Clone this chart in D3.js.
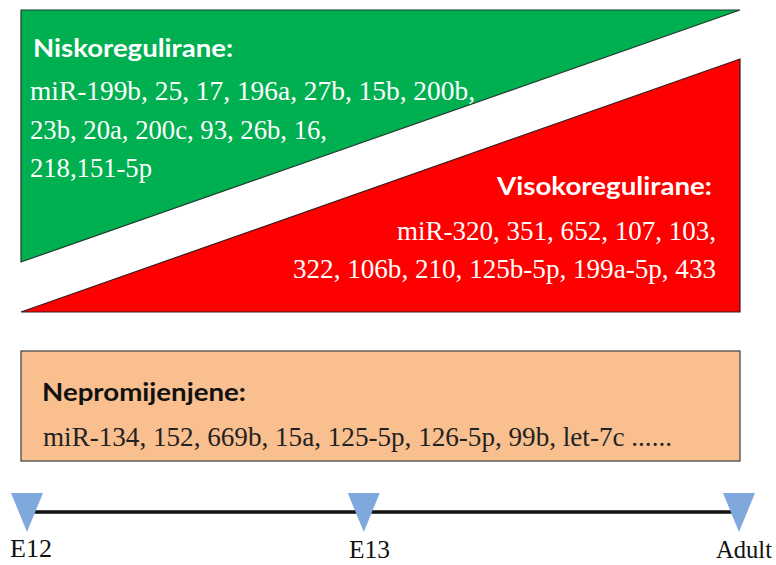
<!DOCTYPE html>
<html>
<head>
<meta charset="utf-8">
<script src="https://cdn.jsdelivr.net/npm/d3@7"></script>
<style>
  html, body { margin: 0; padding: 0; background: #fff; }
  svg { display: block; }
</style>
</head>
<body>
<svg id="chart" width="776" height="565"></svg>
<script>
// ---- data ----
const groupTitles = ["Niskoregulirane:", "Visokoregulirane:", "Nepromijenjene:"];
const downLines = [
  "miR-199b, 25, 17, 196a, 27b, 15b, 200b,",
  "23b, 20a, 200c, 93, 26b, 16,",
  "218,151-5p"
];
const upLines = [
  "miR-320, 351, 652, 107, 103,",
  "322, 106b, 210, 125b-5p, 199a-5p, 433"
];
const unchangedLines = [
  "miR-134, 152, 669b, 15a, 125-5p, 126-5p, 99b, let-7c ......"
];
const stages = ["E12", "E13", "Adult"];
const stageTimes = [0, 0.473, 1];   // relative position along the developmental axis

// ---- layout ----
const SERIF = '"Liberation Serif", "Times New Roman", serif';
const SANS = '"Lato", "Open Sans", sans-serif';
const svg = d3.select("#chart");
const L = 21, R = 740;
const x = d3.scaleLinear().domain([0, 1]).range([L, R]);

// green (down-regulated) triangle
svg.append("path")
  .attr("d", d3.line()([[x(0), 10], [x(1), 10], [x(0), 262]]) + "Z")
  .attr("fill", "#00b050").attr("stroke", "#1d3b2c").attr("stroke-width", 1.2);

// red (up-regulated) triangle
svg.append("path")
  .attr("d", d3.line()([[x(0), 312], [x(1), 59], [x(1), 312]]) + "Z")
  .attr("fill", "#ff0000").attr("stroke", "#3a1a1a").attr("stroke-width", 1.2);

// orange (unchanged) box
svg.append("rect")
  .attr("x", x(0)).attr("y", 351).attr("width", x(1) - x(0)).attr("height", 110)
  .attr("fill", "#f9bf8f").attr("stroke", "#4a4a4a").attr("stroke-width", 1.3);

function title(txt, tx, ty, len, anchor, color) {
  svg.append("text").text(txt)
    .attr("x", tx).attr("y", ty)
    .attr("text-anchor", anchor)
    .style("font-family", SANS)
    .style("font-weight", "bold")
    .style("font-size", "24px")
    .attr("fill", color)
    .attr("textLength", len).attr("lengthAdjust", "spacingAndGlyphs");
}
function lines(arr, tx, ys, lens, anchor, color) {
  svg.selectAll(null).data(arr).enter().append("text")
    .text(d => d)
    .attr("x", tx).attr("y", (d, i) => ys[i])
    .attr("text-anchor", anchor)
    .style("font-family", SERIF)
    .style("font-size", "27px")
    .attr("fill", color)
    .attr("textLength", (d, i) => lens[i]).attr("lengthAdjust", "spacingAndGlyphs");
}

title(groupTitles[0], 33, 57, 200, "start", "#ffffff");
lines(downLines, 30, [100, 139, 177], [445, 297, 122], "start", "#ffffff");

title(groupTitles[1], 712, 195, 215, "end", "#ffffff");
lines(upLines, 716, [240, 278], [319, 423], "end", "#ffffff");

title(groupTitles[2], 42, 401, 204, "start", "#111111");
lines(unchangedLines, 43, [446], [629], "start", "#222222");

// timeline
const tx = d3.scaleLinear().domain([0, 1]).range([27, 739]);
svg.append("line")
  .attr("x1", tx(0) + 6).attr("x2", tx(1) - 6)
  .attr("y1", 512).attr("y2", 512)
  .attr("stroke", "#111").attr("stroke-width", 3.5);

svg.selectAll(null).data(stageTimes).enter().append("path")
  .attr("d", d => d3.line()([[tx(d) - 16, 493], [tx(d) + 16, 493], [tx(d), 532]]) + "Z")
  .attr("fill", "#7fa8dc");

const labelX = [10, 349, 716];
const labelY = [557, 558, 558];
const labelLen = [42, 41, 56];
svg.selectAll(null).data(stages).enter().append("text")
  .text(d => d)
  .attr("x", (d, i) => labelX[i])
  .attr("y", (d, i) => labelY[i])
  .style("font-family", SERIF)
  .style("font-size", "25px")
  .attr("fill", "#111")
  .attr("textLength", (d, i) => labelLen[i]).attr("lengthAdjust", "spacingAndGlyphs");
</script>
</body>
</html>
